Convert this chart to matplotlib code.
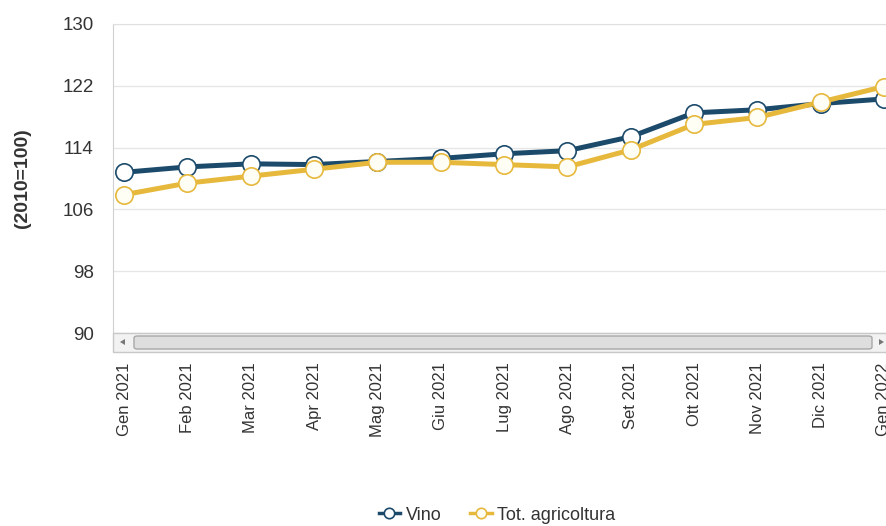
import numpy as np
import matplotlib.pyplot as plt
from matplotlib.patches import FancyBboxPatch, Polygon

plt.rcParams["font.family"] = ["Liberation Sans", "DejaVu Sans"]

months = ["Gen 2021", "Feb 2021", "Mar 2021", "Apr 2021", "Mag 2021", "Giu 2021",
          "Lug 2021", "Ago 2021", "Set 2021", "Ott 2021", "Nov 2021", "Dic 2021", "Gen 2022"]
vino = [110.8, 111.5, 111.9, 111.8, 112.2, 112.6, 113.2, 113.6, 115.4, 118.5, 118.9, 119.7, 120.3]
tot_agricoltura = [107.9, 109.4, 110.3, 111.2, 112.1, 112.1, 111.8, 111.5, 113.7, 117.0, 117.9, 119.9, 121.9]
yticks = [90, 98, 106, 114, 122, 130]

blue = "#1c4a6b"
yellow = "#e6b83c"

fig = plt.figure(figsize=(8.87, 5.26), dpi=100)
ax = fig.add_axes([113 / 887, 1 - 333 / 526, 1 - 113 / 887, (333 - 24) / 526])

x = np.arange(len(months))
ax.plot(x, vino, color=blue, lw=3.6, marker="o", ms=12.5, mfc="white", mec=blue,
        mew=1.2, label="Vino", zorder=3)
ax.plot(x, tot_agricoltura, color=yellow, lw=3.6, marker="o", ms=12.5, mfc="#fffef5",
        mec=yellow, mew=1.2, label="Tot. agricoltura", zorder=4)

ax.set_xlim(-11 / 63.33, 12 + 3 / 63.33)
ax.set_ylim(90, 130)
ax.set_yticks(yticks)
ax.set_xticks(x)
ax.set_xticklabels(months, rotation=90, fontsize=12, color="#333333")
ax.tick_params(axis="x", length=0, pad=21)
ax.tick_params(axis="y", length=0, pad=14, labelsize=13.5, labelcolor="#333333")
ax.grid(axis="y", color="#e6e6e6", lw=1)
ax.set_axisbelow(True)
for s in ["right", "bottom"]:
    ax.spines[s].set_visible(False)
ax.spines["top"].set_color("#e0e0e0")
ax.spines["left"].set_color("#d0d0d0")

fig.text(23 / 887, 1 - 178 / 526, "(2010=100)", rotation=90, fontsize=14,
         fontweight="bold", ha="center", va="center", color="#333333")

# scrollbar under the plot
sb = FancyBboxPatch((113 / 887, 1 - 352 / 526), 774 / 887, 19 / 526,
                    boxstyle="square,pad=0", transform=fig.transFigure,
                    fc="#f2f2f2", ec="#c8c8c8", lw=1)
fig.patches.append(sb)
thumb = FancyBboxPatch((134 / 887, 1 - 349 / 526), 738 / 887, 13 / 526,
                       boxstyle="round,pad=0,rounding_size=0.004", transform=fig.transFigure,
                       fc="#dedede", ec="#a8a8a8", lw=1)
fig.patches.append(thumb)
for tri in ([(120, 342), (125, 339), (125, 345)], [(884, 342), (879, 339), (879, 345)]):
    fig.patches.append(Polygon([(a / 887, 1 - b / 526) for a, b in tri], closed=True,
                               transform=fig.transFigure, fc="#777777", ec="none"))

leg = fig.legend(loc="center", bbox_to_anchor=(497 / 887, 1 - 515 / 526), ncol=2,
                 frameon=False, fontsize=13, handlelength=1.2, columnspacing=1.6,
                 handletextpad=0.3, markerscale=0.6)
for t in leg.get_texts():
    t.set_color("#333333")
for h in leg.legend_handles:
    h.set_linewidth(2.5)

fig.savefig("out.png", dpi=100)
